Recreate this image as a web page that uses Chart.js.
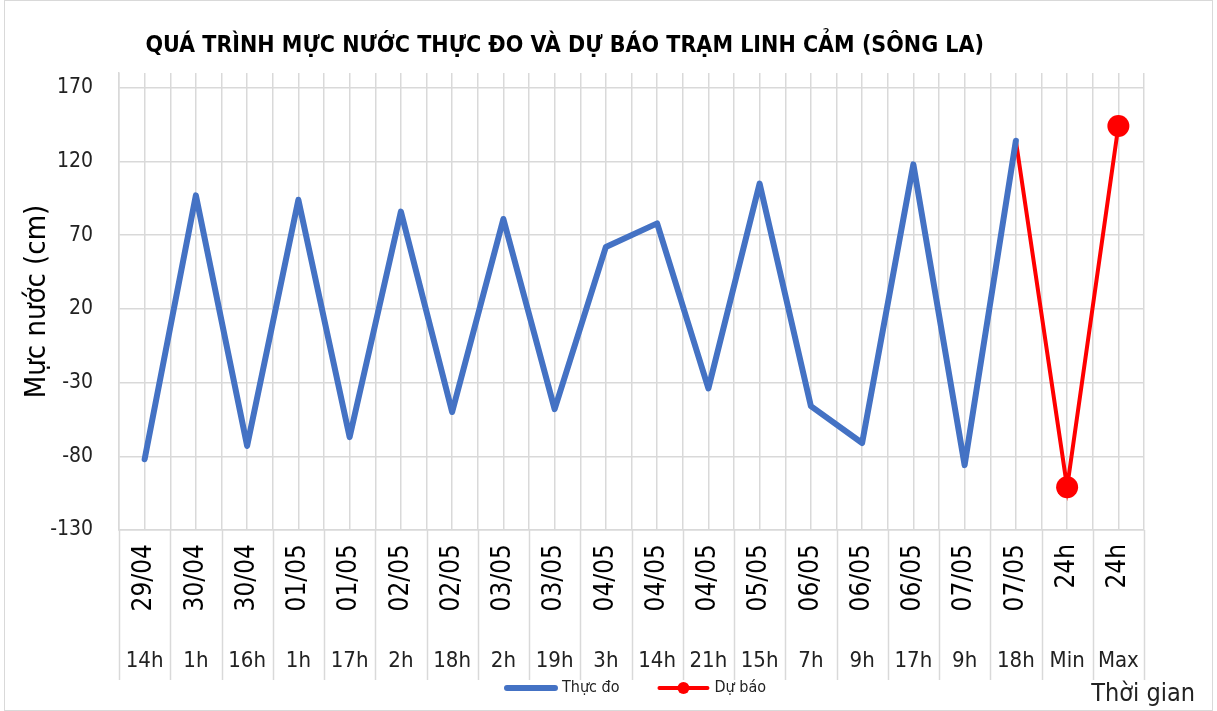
<!DOCTYPE html>
<html>
<head>
<meta charset="utf-8">
<script src="https://cdn.jsdelivr.net/npm/chart.js@4.4.1/dist/chart.umd.min.js"></script>
<style>
  html, body { margin: 0; padding: 0; background: #fff; }
  canvas { display: block; }
</style>
</head>
<body>
<canvas id="chart" width="1217" height="711"></canvas>
<script>
// x categories: date row (rotated) and hour row
var dates = ['29/04', '30/04', '30/04', '01/05', '01/05', '02/05', '02/05', '03/05', '03/05', '04/05',
             '04/05', '04/05', '05/05', '06/05', '06/05', '06/05', '07/05', '07/05', '24h', '24h'];
var hours = ['14h', '1h', '16h', '1h', '17h', '2h', '18h', '2h', '19h', '3h',
             '14h', '21h', '15h', '7h', '9h', '17h', '9h', '18h', 'Min', 'Max'];
// measured water level (cm)
var thucDo = [-82, 97, -73, 94, -67, 86, -50, 81, -48, 62,
              78, -34, 105, -46, -71, 118, -86, 134, null, null];
// forecast (cm)
var duBao = [null, null, null, null, null, null, null, null, null, null,
             null, null, null, null, null, null, null, 134, -101, 144];
var yTicks = [-130, -80, -30, 20, 70, 120, 170];

var FONT = "'Liberation Sans Narrow', 'DejaVu Sans Condensed', 'Arial Narrow', sans-serif";
var gridColor = '#d9d9d9';

var extras = {
  id: 'extras',
  beforeDraw: function (chart) {
    var ctx = chart.ctx;
    ctx.save();
    ctx.strokeStyle = gridColor;
    ctx.lineWidth = 1;
    ctx.strokeRect(4.5, 0.5, chart.width - 9, chart.height - 1);
    ctx.restore();
  },
  afterDraw: function (chart) {
    var ctx = chart.ctx;
    var area = chart.chartArea;
    var x = chart.scales.x, x2 = chart.scales.x2;
    var n = dates.length;
    var w = (x.right - x.left) / n;
    ctx.save();
    // separators in the two-row label area
    ctx.strokeStyle = gridColor;
    ctx.lineWidth = 1.5;
    for (var i = 0; i <= n; i++) {
      var px = Math.round(x.left + i * w) + 0.5;
      ctx.beginPath();
      ctx.moveTo(px, x.top);
      ctx.lineTo(px, x2.bottom);
      ctx.stroke();
    }
    // title
    ctx.fillStyle = '#000';
    ctx.font = 'bold 23px ' + FONT;
    ctx.textAlign = 'center';
    ctx.textBaseline = 'middle';
    ctx.fillText('QUÁ TRÌNH MỰC NƯỚC THỰC ĐO VÀ DỰ BÁO TRẠM LINH CẢM (SÔNG LA)', chart.width * 0.464, 46);
    // x axis name
    ctx.font = '25px ' + FONT;
    ctx.fillStyle = '#222';
    ctx.textAlign = 'right';
    ctx.textBaseline = 'alphabetic';
    ctx.fillText('Thời gian', x.right + 51, chart.height - 10);
    // legend
    ctx.font = '16px ' + FONT;
    ctx.textAlign = 'left';
    ctx.textBaseline = 'middle';
    var sets = chart.data.datasets;
    var lineW = 52, gapText = 5, gapItem = 38;
    var total = 0;
    sets.forEach(function (d, k) {
      total += lineW + gapText + ctx.measureText(d.label).width + (k ? 0 : gapItem);
    });
    var lx = (area.left + area.right) / 2 + 4 - total / 2;
    var ly = x2.bottom + 8;
    sets.forEach(function (d) {
      ctx.strokeStyle = d.borderColor;
      ctx.lineWidth = d.borderWidth;
      ctx.lineCap = 'round';
      ctx.beginPath();
      ctx.moveTo(lx + 2, ly);
      ctx.lineTo(lx + lineW - 2, ly);
      ctx.stroke();
      if (d.legendMarker) {
        ctx.fillStyle = d.borderColor;
        ctx.beginPath();
        ctx.arc(lx + lineW / 2, ly, 6, 0, Math.PI * 2);
        ctx.fill();
      }
      ctx.fillStyle = '#222';
      ctx.fillText(d.label, lx + lineW + gapText, ly);
      lx += lineW + gapText + ctx.measureText(d.label).width + gapItem;
    });
    ctx.restore();
  }
};

var chart = new Chart('chart', {
  type: 'line',
  data: {
    labels: dates,
    datasets: [
      {
        label: 'Thực đo',
        data: thucDo,
        borderColor: '#4472C4',
        backgroundColor: '#4472C4',
        borderWidth: 6,
        pointRadius: 0,
        borderJoinStyle: 'round',
        borderCapStyle: 'round'
      },
      {
        label: 'Dự báo',
        data: duBao,
        borderColor: '#ff0000',
        backgroundColor: '#ff0000',
        borderWidth: 4,
        legendMarker: true,
        pointRadius: [0, 0, 0, 0, 0, 0, 0, 0, 0, 0, 0, 0, 0, 0, 0, 0, 0, 0, 11, 11],
        pointBorderWidth: 0,
        pointBackgroundColor: '#ff0000'
      }
    ]
  },
  options: {
    responsive: false,
    animation: false,
    layout: { padding: { left: 0, right: 73, top: 73, bottom: 31 } },
    plugins: {
      legend: { display: false },
      tooltip: { enabled: false }
    },
    scales: {
      y: {
        min: -130,
        max: 180,
        afterBuildTicks: function (s) { s.ticks = yTicks.map(function (v) { return { value: v }; }); },
        afterFit: function (s) { s.width = 119; },
        grid: { color: gridColor, lineWidth: 1.5, drawTicks: false },
        border: { color: gridColor, width: 1.5 },
        ticks: { color: '#222', padding: 26, font: { family: FONT, size: 21 } },
        title: {
          display: true,
          text: 'Mực nước (cm)',
          color: '#000',
          padding: { top: 20, bottom: 0 },
          font: { family: FONT, size: 29 }
        }
      },
      x: {
        type: 'category',
        labels: dates,
        offset: true,
        afterFit: function (s) { s.height = 105; },
        grid: { offset: true, color: gridColor, lineWidth: 1.5, drawTicks: false },
        border: { color: gridColor, width: 1.5 },
        ticks: { minRotation: 90, maxRotation: 90, autoSkip: false, padding: 14, color: '#000', font: { family: FONT, size: 26 } }
      },
      x2: {
        type: 'category',
        labels: hours,
        position: 'bottom',
        offset: true,
        afterFit: function (s) { s.height = 45; },
        grid: { offset: false, color: gridColor, lineWidth: 1.5, drawTicks: false },
        border: { display: false },
        ticks: { autoSkip: false, maxRotation: 0, padding: 13, color: '#222', font: { family: FONT, size: 22 } }
      }
    }
  },
  plugins: [extras]
});
</script>
</body>
</html>
